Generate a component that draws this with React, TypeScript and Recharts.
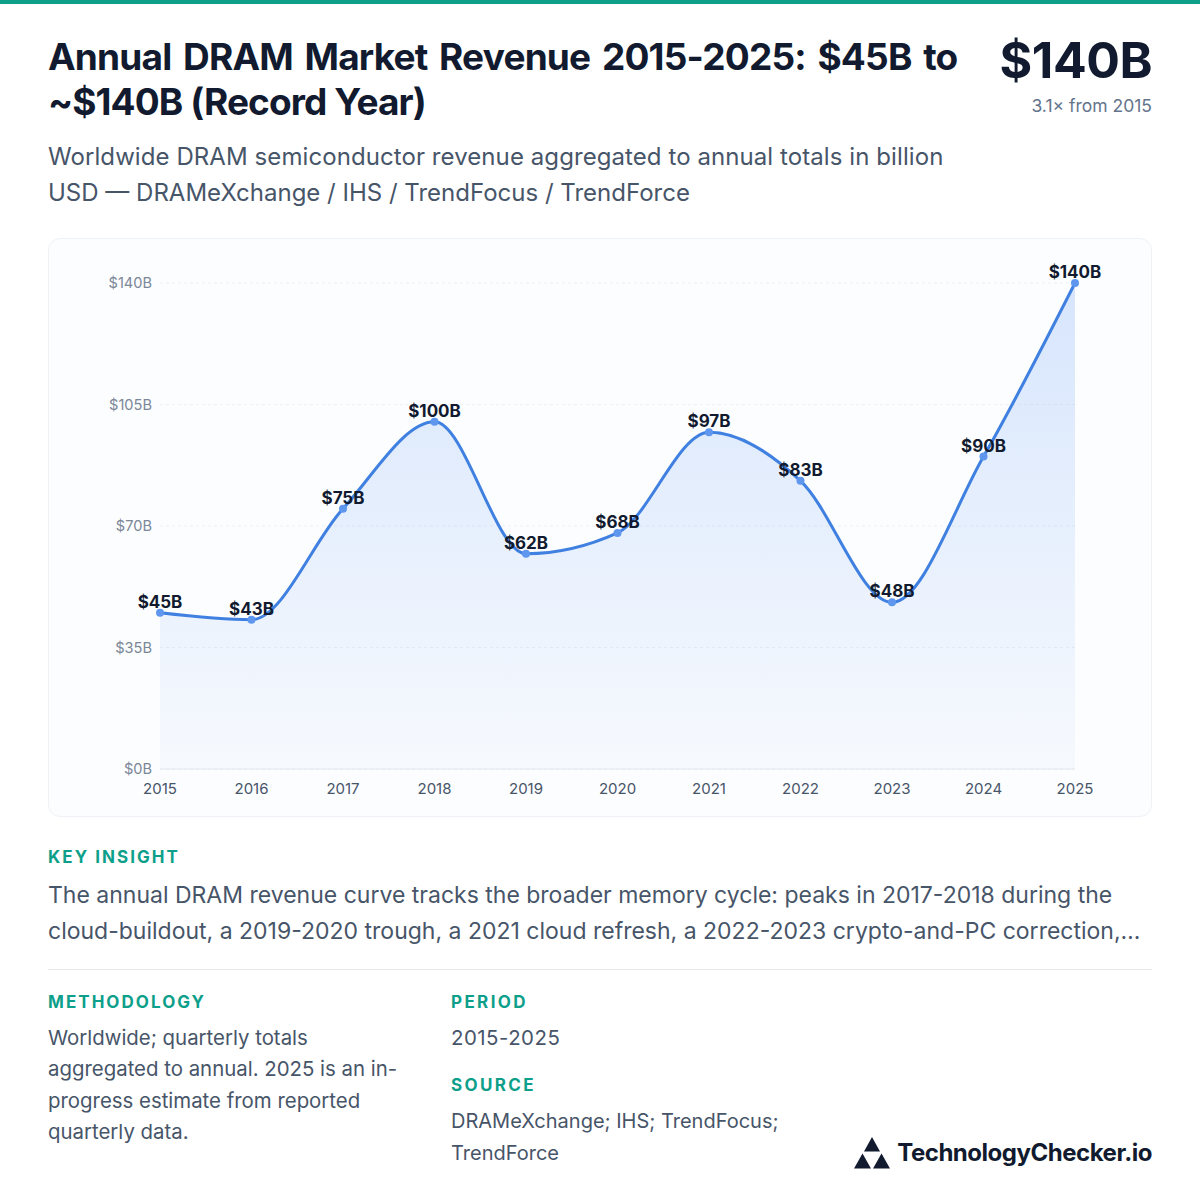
import React from "react";
import { AreaChart, Area, CartesianGrid, XAxis, YAxis, LabelList } from "recharts";

const years = ["2015", "2016", "2017", "2018", "2019", "2020", "2021", "2022", "2023", "2024", "2025"];
const revenue = [45, 43, 75, 100, 62, 68, 97, 83, 48, 90, 140];
const yTicks = [0, 35, 70, 105, 140];

const chartData = years.map((year, i) => ({ year, revenue: revenue[i] }));

const font = "Inter, sans-serif";

const text = (
  left: number,
  top: number,
  size: number,
  color: string,
  weight: number,
  content: string,
  extra: React.CSSProperties = {}
) => (
  <div
    style={{
      position: "absolute",
      left,
      top,
      fontSize: size,
      color,
      fontWeight: weight,
      lineHeight: 1,
      whiteSpace: "nowrap",
      ...extra,
    }}
  >
    {content}
  </div>
);

const App: React.FC = () => {
  const longLabel = { letterSpacing: "0.12em" };
  const shortLabel = { letterSpacing: "0.14em" };
  return (
    <div style={{ position: "absolute", left: 0, top: 0, width: 1200, height: 1200, background: "#fff", fontFamily: font, overflow: "hidden" }}>
      <div style={{ position: "absolute", left: 0, top: 0, width: 1200, height: 4, background: "#0d9f8a" }} />

      {text(48, 38, 37, "#111a2e", 700, "Annual DRAM Market Revenue 2015-2025: $45B to", { letterSpacing: "-0.8px", wordSpacing: "3.6px" })}
      {text(48, 83, 37, "#111a2e", 700, "~$140B (Record Year)", { letterSpacing: "-0.89px" })}
      {text(48, 145, 24, "#475569", 400, "Worldwide DRAM semiconductor revenue aggregated to annual totals in billion", { letterSpacing: "0.08px" })}
      {text(48, 181, 24, "#475569", 400, "USD — DRAMeXchange / IHS / TrendFocus / TrendForce")}

      <div style={{ position: "absolute", right: 48, top: 35, fontSize: 50, fontWeight: 700, color: "#111a2e", lineHeight: 1, letterSpacing: "-0.01em" }}>$140B</div>
      <div style={{ position: "absolute", right: 48, top: 97, fontSize: 17.5, color: "#64748b", lineHeight: 1 }}>3.1× from 2015</div>

      <div style={{ position: "absolute", left: 48, top: 238, width: 1104, height: 579, boxSizing: "border-box", background: "#fcfdfe", border: "1px solid #eef1f5", borderRadius: 12 }} />
      <div style={{ position: "absolute", left: 48, top: 238 }}>
        <AreaChart width={1104} height={579} data={chartData} margin={{ top: 45, right: 77, bottom: 0, left: 0 }}>
          <defs>
            <linearGradient id="revenueFill" x1="0" y1="0" x2="0" y2="1">
              <stop offset="0%" stopColor="#3b82f6" stopOpacity={0.32} />
              <stop offset="100%" stopColor="#3b82f6" stopOpacity={0.05} />
            </linearGradient>
          </defs>
          <CartesianGrid horizontal vertical={false} stroke="#edf0f4" strokeDasharray="3 3" />
          <XAxis
            dataKey="year"
            scale="point"
            interval={0}
            height={48}
            stroke="#e2e8f0"
            tickLine={false}
            tickMargin={8}
            tick={{ fontSize: 15, fill: "#475569", fontFamily: font }}
          />
          <YAxis
            domain={[0, 140]}
            ticks={yTicks}
            width={112}
            axisLine={false}
            tickLine={false}
            tickSize={0}
            tickMargin={8}
            tickFormatter={(v: number) => `$${v}B`}
            tick={{ fontSize: 14.6, fill: "#7b8798", fontFamily: font }}
          />
          <Area
            type="monotone"
            dataKey="revenue"
            stroke="#3f80e0"
            strokeWidth={3}
            fill="url(#revenueFill)"
            dot={{ r: 4, fill: "#5f97ef", stroke: "none", fillOpacity: 1 }}
            isAnimationActive={false}
          >
            <LabelList
              dataKey="revenue"
              position="top"
              offset={5}
              formatter={(v: number) => `$${v}B`}
              style={{ fontSize: 17, fontWeight: 700, fill: "#111a2e", fontFamily: font }}
            />
          </Area>
        </AreaChart>
      </div>

      {text(48, 849, 17, "#0d9f8a", 700, "KEY INSIGHT", longLabel)}
      {text(48, 884, 23, "#475569", 400, "The annual DRAM revenue curve tracks the broader memory cycle: peaks in 2017-2018 during the")}
      {text(48, 920, 23, "#475569", 400, "cloud-buildout, a 2019-2020 trough, a 2021 cloud refresh, a 2022-2023 crypto-and-PC correction,…")}
      <div style={{ position: "absolute", left: 48, top: 969, width: 1104, height: 1, background: "#e5e7eb" }} />

      {text(48, 994, 17, "#0d9f8a", 700, "METHODOLOGY", longLabel)}
      {text(48, 1028, 20.4, "#475569", 400, "Worldwide; quarterly totals")}
      {text(48, 1059, 20.4, "#475569", 400, "aggregated to annual. 2025 is an in-")}
      {text(48, 1091, 20.4, "#475569", 400, "progress estimate from reported")}
      {text(48, 1122, 20.4, "#475569", 400, "quarterly data.")}

      {text(451, 994, 17, "#0d9f8a", 700, "PERIOD", shortLabel)}
      {text(451, 1028, 20.4, "#475569", 400, "2015-2025", { letterSpacing: "0.5px" })}
      {text(451, 1077, 17, "#0d9f8a", 700, "SOURCE", shortLabel)}
      {text(451, 1111, 20, "#475569", 400, "DRAMeXchange; IHS; TrendFocus;")}
      {text(451, 1143, 20, "#475569", 400, "TrendForce")}

      <svg style={{ position: "absolute", left: 854, top: 1137 }} width={36} height={32} viewBox="0 0 36 32">
        <path d="M18 0 L26 14.5 L10 14.5 Z" fill="#111a2e" />
        <path d="M8.5 16.5 L17 31.5 L0 31.5 Z" fill="#111a2e" />
        <path d="M27.5 16.5 L36 31.5 L19 31.5 Z" fill="#111a2e" />
      </svg>
      <div style={{ position: "absolute", right: 48, top: 1141, fontSize: 24, fontWeight: 700, color: "#111a2e", lineHeight: 1, letterSpacing: "-0.02em" }}>TechnologyChecker.io</div>
    </div>
  );
};

export default App;
